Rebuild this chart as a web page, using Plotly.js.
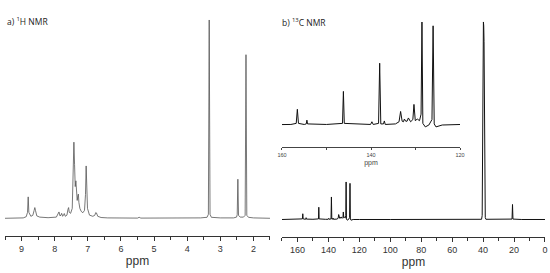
<!DOCTYPE html>
<html>
<head>
<meta charset="utf-8">
<script src="https://cdn.plot.ly/plotly-3.0.1.min.js"></script>
<style>
  html, body { margin: 0; padding: 0; background: #fff; }
  #plot { width: 550px; height: 273px; }
</style>
</head>
<body>
<div id="plot"></div>
<script>
// 1H spectrum, points (ppm, relative intensity)
const hPpm = [9.5, 8.95, 8.86, 8.82, 8.80, 8.78, 8.72, 8.66, 8.62, 8.60, 8.58, 8.54, 8.45, 8.2,
  7.95, 7.90, 7.87, 7.84, 7.81, 7.79, 7.76, 7.74, 7.71, 7.68, 7.63, 7.60, 7.58, 7.56, 7.52,
  7.47, 7.45, 7.42, 7.40, 7.38, 7.36, 7.34, 7.32, 7.30, 7.285, 7.27, 7.24, 7.2, 7.15,
  7.10, 7.07, 7.05, 7.035, 7.01, 6.95, 6.85, 6.79, 6.76, 6.74, 6.70, 6.6, 6.4,
  5.5, 5.45, 5.4, 4.5, 4.0, 3.6, 3.40, 3.36, 3.335, 3.31, 3.27, 3.0, 2.6,
  2.51, 2.49, 2.47, 2.45, 2.40, 2.30, 2.25, 2.225, 2.20, 2.15, 2.0, 1.5];
const hInt = [0, 0.2, 0.8, 3, 10.8, 3, 1.0, 1.5, 4, 5.4, 4, 1.2, 0.6, 0.3,
  0.6, 2, 3.2, 1.2, 1.6, 2.5, 1.0, 1.4, 2.4, 1.0, 1.6, 4.5, 5.4, 3, 2.5,
  5, 26, 38.4, 27, 16, 18.9, 13, 9, 11.4, 12.2, 8, 5, 3.5, 2.8,
  4, 12, 26.4, 20, 5, 1.6, 1.0, 1.5, 2.9, 2.7, 1.0, 0.4, 0.2,
  0.1, 0.5, 0.1, 0.1, 0.3, 0.2, 0.5, 2, 100, 2, 0.5, 0.2, 0.2,
  0.6, 1.8, 19.7, 1.5, 0.6, 0.6, 1.5, 82.5, 1.5, 0.5, 0.2, 0];

// 13C spectrum, points
const cPpm = [170, 158, 156.8, 156.55, 156.3, 155, 154.55, 154.4, 154.25, 150,
  146.4, 146.2, 146.0, 142, 140.1, 139.8, 139.5, 138.3, 138.05, 137.8, 137.2, 137.0, 136.8,
  134.5, 133.7, 133.35, 133.0, 132.7, 132.5, 132.2, 131.9, 131.6, 131.1, 130.6, 130.35, 130.05,
  129.6, 129.1, 128.75, 128.55, 128.35, 127.8, 127, 126.3, 126.05, 125.8, 125.4, 124, 121, 120,
  100, 80, 60, 41, 40.6, 40.4, 40.2, 40.0, 39.8, 39.6, 39.4, 39.2, 39.0, 38.8, 38.6, 38.2, 30,
  21.3, 21.0, 20.7, 15, 0];
const cInt = [0, 0.1, 0.3, 2.9, 0.3, 0.1, 0.2, 0.9, 0.2, 0.1,
  0.3, 6.2, 0.3, 0.1, 0.1, 0.6, 0.1, 0.3, 11.4, 0.2, 0.2, 0.75, 0.1,
  0.2, 0.6, 2.5, 0.7, 0.6, 1.1, 0.7, 0.7, 1.3, 0.6, 1.0, 3.8, 0.8,
  1.1, 0.8, 2, 19, 0.3, -0.35, 0, 1, 18.3, 0.2, -0.35, 0, 0.1, 0,
  0, 0.1, 0, 0.1, 2, 20, 70, 96, 100, 98, 90, 60, 15, 3, 1, 0.1, 0,
  0.2, 7.6, 0.2, 0, 0];

const hTicks = [9, 8, 7, 6, 5, 4, 3, 2];
const cTicks = [160, 140, 120, 100, 80, 60, 40, 20, 0];
const insetTicks = [160, 140, 120];

const tickFont = { family: 'Liberation Sans, Arial, sans-serif', size: 9, color: '#333' };

function xAxis(domain, range, ticks, minorStep, anchor) {
  return {
    domain: domain, range: range, anchor: anchor,
    showline: true, linecolor: '#333', linewidth: 1,
    ticks: 'outside', ticklen: 4, tickcolor: '#333',
    tickvals: ticks, tickfont: tickFont,
    minor: { tickvals: minorStep, ticks: 'outside', ticklen: 3, tickcolor: '#333' },
    showgrid: false, zeroline: false,
    title: { text: 'ppm', font: { family: 'Liberation Sans, Arial, sans-serif', size: 12, color: '#333' }, standoff: 3 }
  };
}

const data = [
  { x: hPpm, y: hInt, xaxis: 'x', yaxis: 'y', type: 'scatter', mode: 'lines',
    line: { color: '#555', width: 0.8 }, hoverinfo: 'skip' },
  { x: cPpm, y: cInt, xaxis: 'x2', yaxis: 'y2', type: 'scatter', mode: 'lines',
    line: { color: '#111', width: 1 }, hoverinfo: 'skip' },
  { x: cPpm, y: cInt, xaxis: 'x3', yaxis: 'y3', type: 'scatter', mode: 'lines',
    line: { color: '#111', width: 1 }, hoverinfo: 'skip' }
];

const layout = {
  width: 550, height: 273,
  margin: { l: 0, r: 0, t: 0, b: 0 },
  showlegend: false,
  paper_bgcolor: '#fff', plot_bgcolor: 'rgba(0,0,0,0)',
  xaxis: xAxis([0.0091, 0.4909], [9.5, 1.5], hTicks, [9.5, 8.5, 7.5, 6.5, 5.5, 4.5, 3.5, 2.5, 1.5], 'y'),
  yaxis: { domain: [0.1337, 0.9304], range: [-9.18, 100.5], visible: false },
  xaxis2: xAxis([0.5127, 0.9909], [170, 0], cTicks, [170, 150, 130, 110, 90, 70, 50, 30, 10], 'y2'),
  yaxis2: { domain: [0.1319, 0.9231], range: [-8.86, 100.5], visible: false },
  xaxis3: {
    domain: [0.5127, 0.8364], range: [160, 120], anchor: 'y3',
    showline: true, linecolor: '#444', linewidth: 1,
    ticks: 'outside', ticklen: 2, tickcolor: '#444',
    tickvals: insetTicks, tickfont: { family: 'Liberation Sans, Arial, sans-serif', size: 5.5, color: '#444' },
    minor: { tickvals: [150, 130], ticks: 'outside', ticklen: 2, tickcolor: '#444' },
    showgrid: false, zeroline: false,
    title: { text: 'ppm', font: { family: 'Liberation Sans, Arial, sans-serif', size: 7, color: '#444' }, standoff: 3 }
  },
  yaxis3: { domain: [0.4615, 0.934], range: [-4.06, 19.74], visible: false },
  annotations: [
    { text: 'a) <sup>1</sup>H NMR', xref: 'paper', yref: 'paper', x: 5 / 550, y: 1 - 21 / 273,
      xanchor: 'left', yanchor: 'middle', showarrow: false,
      font: { family: 'Open Sans, sans-serif', size: 8.5, color: '#222' } },
    { text: 'b) <sup>13</sup>C NMR', xref: 'paper', yref: 'paper', x: 280 / 550, y: 1 - 22 / 273,
      xanchor: 'left', yanchor: 'middle', showarrow: false,
      font: { family: 'Open Sans, sans-serif', size: 8.5, color: '#222' } }
  ]
};

Plotly.newPlot('plot', data, layout, { displayModeBar: false, staticPlot: true });
</script>
</body>
</html>
